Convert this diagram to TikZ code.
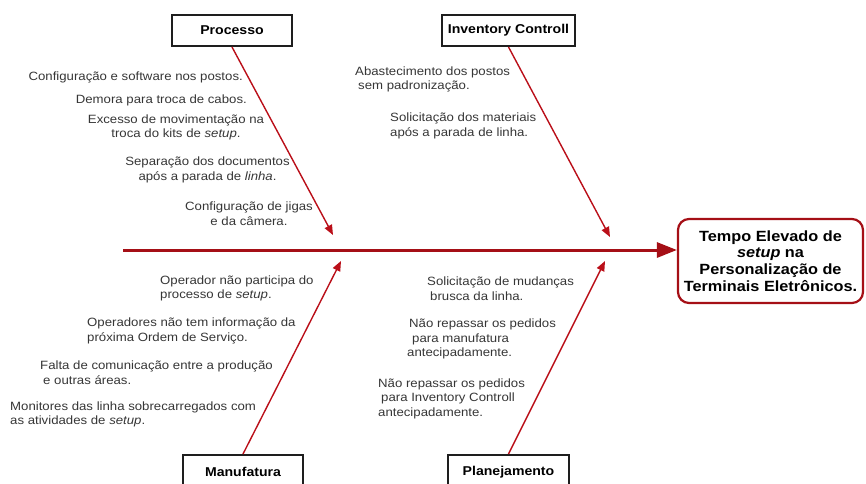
\documentclass[tikz,border=0pt]{standalone}
\usepackage{fontspec}
\setmainfont{Liberation Sans}[FakeStretch=1.1]
\usetikzlibrary{arrows.meta}
\definecolor{txtgray}{HTML}{363636}
\definecolor{bonered}{HTML}{BA0F19}
\definecolor{spinered}{HTML}{A50F16}
\definecolor{boxline}{HTML}{1E1E1E}
\begin{document}
\begin{tikzpicture}[x=1pt,y=-1pt,
  catbox/.style={draw=boxline, line width=2pt, fill=white, inner sep=0pt,
    minimum height=31, text=black, font=\fontsize{12.8}{14}\selectfont\bfseries},
  cause/.style={inner sep=0pt, text=txtgray, font=\fontsize{12}{14.6}\selectfont},
  bone/.style={draw=bonered, line width=1.4pt, -{Triangle[length=10pt,width=8pt]}},
  spine/.style={draw=spinered, line width=3pt, -{Triangle[length=20pt,width=15pt]}},
  effect/.style={draw=spinered, line width=2.2pt, rounded corners=11pt, fill=white,
    minimum width=185, minimum height=84, inner sep=0pt, align=center, text=black,
    font=\fontsize{14.8}{16.6}\selectfont\bfseries}]
\useasboundingbox (0,0) rectangle (866,483);
\clip (0,0) rectangle (866,483);

% category boxes
\node[catbox, minimum width=120] (proc) at (232,30.5) {Processo};
\node[catbox, minimum width=133] (inv)  at (508.5,30.5) {Inventory Controll};
\node[catbox, minimum width=120, minimum height=34] (manu) at (243,472) {Manufatura};
\node[catbox, minimum width=121, minimum height=34] (plan) at (508.5,472) {Planejamento};

% effect box
\node[effect] (eff) at (770.5,261) {Tempo Elevado de\\\textit{setup} na\\Personalização de\\Terminais Eletrônicos.};

% spine and bones
\coordinate (s0) at (123,250);
\coordinate (ptip) at (333,235);
\coordinate (itip) at (610,237);
\coordinate (mtip) at (341,261);
\coordinate (ltip) at (605,261);
\draw[spine] (s0) -- (s0 -| eff.west);
\draw[bone] (proc.south) -- (ptip);
\draw[bone] (inv.south) -- (itip);
\draw[bone] (manu.north) -- (mtip);
\draw[bone] (plan.north) -- (ltip);

% causes: Processo
\node[cause, anchor=east] (p1) at (243,77) {Configuração e software nos postos.};
\node[cause, anchor=east] (p2) at (247,100) {Demora para troca de cabos.};
\node[cause, align=center] (p3) at (176,127.5) {Excesso de movimentação na\\troca do kits de \textit{setup}.};
\node[cause, align=center] (p4) at (207.5,170) {Separação dos documentos\\após a parada de \textit{linha}.};
\node[cause, align=center] (p5) at (249,213.5) {Configuração de jigas\\e da câmera.};

% causes: Inventory Controll
\node[cause, align=left, anchor=west] (i1) at (355,79.5) {Abastecimento dos postos\\\hspace*{3pt}sem padronização.};
\node[cause, align=left, anchor=west] (i2) at (390,126) {Solicitação dos materiais\\após a parada de linha.};

% causes: Manufatura
\node[cause, align=left, anchor=west] (m1) at (160,288.5) {Operador não participa do\\processo de \textit{setup}.};
\node[cause, align=left, anchor=west] (m2) at (87,331) {Operadores não tem informação da\\próxima Ordem de Serviço.};
\node[cause, align=left, anchor=west] (m3) at (40,372.5) {Falta de comunicação entre a produção\\\hspace*{3pt}e outras áreas.};
\node[cause, align=left, anchor=west] (m4) at (10,414.5) {Monitores das linha sobrecarregados com\\as atividades de \textit{setup}.};

% causes: Planejamento
\node[cause, align=left, anchor=west] (l1) at (427,288.5) {Solicitação de mudanças\\\hspace*{3pt}brusca da linha.};
\node[cause, align=left, anchor=west] (l2) at (407,339) {\hspace*{2pt}Não repassar os pedidos\\\hspace*{5pt}para manufatura\\antecipadamente.};
\node[cause, align=left, anchor=west] (l3) at (378,398.5) {Não repassar os pedidos\\\hspace*{3pt}para Inventory Controll\\antecipadamente.};
\end{tikzpicture}
\end{document}
